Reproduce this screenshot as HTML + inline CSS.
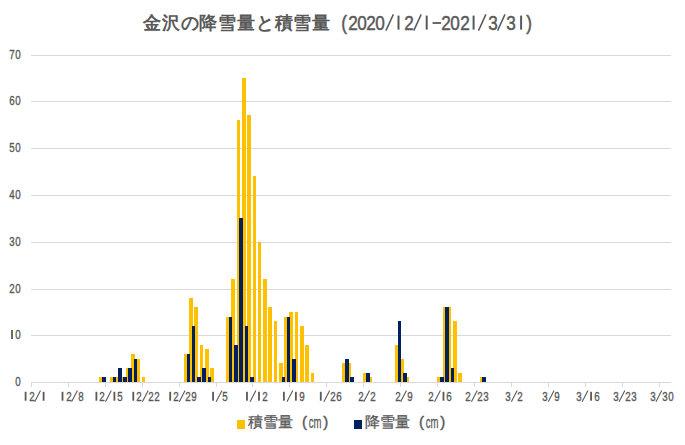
<!DOCTYPE html>
<html><head><meta charset="utf-8"><style>
html,body{margin:0;padding:0;background:#fff;width:685px;height:445px;overflow:hidden;position:relative;font-family:"Liberation Sans",sans-serif;color:#595959}
svg{position:absolute;left:0;top:0}
.g{position:absolute;width:20px;text-align:center;font-size:12.5px;line-height:14px;-webkit-text-stroke:0.35px #595959;transform:scaleX(0.78)}
.title{position:absolute;left:143px;top:11px;font-size:18px;line-height:24px;white-space:nowrap;font-weight:bold}
.title .k{letter-spacing:0.8px}
.td{position:absolute;top:10.7px;width:20px;text-align:center;font-size:19.5px;line-height:24px;-webkit-text-stroke:0.45px #595959;transform:scaleX(0.88)}
.leg{position:absolute;top:413px;font-size:15px;line-height:18px;white-space:nowrap;-webkit-text-stroke:0.3px #595959}
.sw{position:absolute;top:420px;width:8px;height:9px}
.lp{position:absolute;top:412.5px;width:20px;text-align:center;font-size:15px;line-height:18px;-webkit-text-stroke:0.4px #595959}
.lcm{position:absolute;top:412.8px;width:40px;text-align:center;font-size:17px;line-height:20px;-webkit-text-stroke:0.3px #595959;transform:scaleX(0.56)}
</style></head><body>
<svg width="685" height="445" viewBox="0 0 685 445" shape-rendering="crispEdges">
<rect x="31" y="55" width="640" height="1" fill="#D9D9D9"/>
<rect x="31" y="101" width="640" height="1" fill="#D9D9D9"/>
<rect x="31" y="148" width="640" height="1" fill="#D9D9D9"/>
<rect x="31" y="195" width="640" height="1" fill="#D9D9D9"/>
<rect x="31" y="242" width="640" height="1" fill="#D9D9D9"/>
<rect x="31" y="289" width="640" height="1" fill="#D9D9D9"/>
<rect x="31" y="335" width="640" height="1" fill="#D9D9D9"/>
<rect x="99" y="377" width="4" height="6" fill="#FFC000"/>
<rect x="110" y="377" width="4" height="6" fill="#FFC000"/>
<rect x="115" y="377" width="4" height="6" fill="#FFC000"/>
<rect x="121" y="377" width="3" height="6" fill="#FFC000"/>
<rect x="126" y="368" width="3" height="15" fill="#FFC000"/>
<rect x="131" y="354" width="4" height="29" fill="#FFC000"/>
<rect x="136" y="359" width="4" height="24" fill="#FFC000"/>
<rect x="142" y="377" width="3" height="6" fill="#FFC000"/>
<rect x="184" y="354" width="4" height="29" fill="#FFC000"/>
<rect x="189" y="298" width="4" height="85" fill="#FFC000"/>
<rect x="194" y="307" width="4" height="76" fill="#FFC000"/>
<rect x="200" y="345" width="3" height="38" fill="#FFC000"/>
<rect x="205" y="349" width="4" height="34" fill="#FFC000"/>
<rect x="210" y="368" width="4" height="15" fill="#FFC000"/>
<rect x="226" y="317" width="4" height="66" fill="#FFC000"/>
<rect x="231" y="279" width="4" height="104" fill="#FFC000"/>
<rect x="237" y="120" width="3" height="263" fill="#FFC000"/>
<rect x="242" y="78" width="4" height="305" fill="#FFC000"/>
<rect x="247" y="115" width="4" height="268" fill="#FFC000"/>
<rect x="253" y="176" width="3" height="207" fill="#FFC000"/>
<rect x="258" y="242" width="3" height="141" fill="#FFC000"/>
<rect x="263" y="279" width="4" height="104" fill="#FFC000"/>
<rect x="268" y="307" width="4" height="76" fill="#FFC000"/>
<rect x="274" y="321" width="3" height="62" fill="#FFC000"/>
<rect x="279" y="363" width="4" height="20" fill="#FFC000"/>
<rect x="284" y="317" width="4" height="66" fill="#FFC000"/>
<rect x="289" y="312" width="4" height="71" fill="#FFC000"/>
<rect x="295" y="312" width="3" height="71" fill="#FFC000"/>
<rect x="300" y="326" width="4" height="57" fill="#FFC000"/>
<rect x="305" y="345" width="4" height="38" fill="#FFC000"/>
<rect x="311" y="373" width="3" height="10" fill="#FFC000"/>
<rect x="342" y="363" width="4" height="20" fill="#FFC000"/>
<rect x="348" y="363" width="3" height="20" fill="#FFC000"/>
<rect x="363" y="373" width="4" height="10" fill="#FFC000"/>
<rect x="369" y="377" width="3" height="6" fill="#FFC000"/>
<rect x="395" y="345" width="4" height="38" fill="#FFC000"/>
<rect x="400" y="359" width="4" height="24" fill="#FFC000"/>
<rect x="406" y="377" width="3" height="6" fill="#FFC000"/>
<rect x="437" y="377" width="4" height="6" fill="#FFC000"/>
<rect x="443" y="307" width="3" height="76" fill="#FFC000"/>
<rect x="448" y="307" width="3" height="76" fill="#FFC000"/>
<rect x="453" y="321" width="4" height="62" fill="#FFC000"/>
<rect x="458" y="373" width="4" height="10" fill="#FFC000"/>
<rect x="480" y="377" width="3" height="6" fill="#FFC000"/>
<rect x="102" y="377" width="4" height="6" fill="#002060"/>
<rect x="113" y="377" width="3" height="6" fill="#002060"/>
<rect x="118" y="368" width="4" height="15" fill="#002060"/>
<rect x="123" y="377" width="4" height="6" fill="#002060"/>
<rect x="128" y="368" width="4" height="15" fill="#002060"/>
<rect x="134" y="359" width="3" height="24" fill="#002060"/>
<rect x="187" y="354" width="3" height="29" fill="#002060"/>
<rect x="192" y="326" width="3" height="57" fill="#002060"/>
<rect x="197" y="377" width="4" height="6" fill="#002060"/>
<rect x="202" y="368" width="4" height="15" fill="#002060"/>
<rect x="208" y="377" width="3" height="6" fill="#002060"/>
<rect x="229" y="317" width="3" height="66" fill="#002060"/>
<rect x="234" y="345" width="4" height="38" fill="#002060"/>
<rect x="239" y="218" width="4" height="165" fill="#002060"/>
<rect x="245" y="326" width="3" height="57" fill="#002060"/>
<rect x="250" y="377" width="4" height="6" fill="#002060"/>
<rect x="282" y="377" width="3" height="6" fill="#002060"/>
<rect x="287" y="317" width="3" height="66" fill="#002060"/>
<rect x="292" y="359" width="4" height="24" fill="#002060"/>
<rect x="345" y="359" width="4" height="24" fill="#002060"/>
<rect x="350" y="377" width="4" height="6" fill="#002060"/>
<rect x="366" y="373" width="4" height="10" fill="#002060"/>
<rect x="398" y="321" width="3" height="62" fill="#002060"/>
<rect x="403" y="373" width="4" height="10" fill="#002060"/>
<rect x="440" y="377" width="4" height="6" fill="#002060"/>
<rect x="445" y="307" width="4" height="76" fill="#002060"/>
<rect x="451" y="368" width="3" height="15" fill="#002060"/>
<rect x="482" y="377" width="4" height="6" fill="#002060"/>
<rect x="31" y="382" width="640" height="1" fill="#D9D9D9"/>
<rect x="31" y="382" width="1" height="5" fill="#D9D9D9"/>
<rect x="68" y="382" width="1" height="5" fill="#D9D9D9"/>
<rect x="105" y="382" width="1" height="5" fill="#D9D9D9"/>
<rect x="142" y="382" width="1" height="5" fill="#D9D9D9"/>
<rect x="179" y="382" width="1" height="5" fill="#D9D9D9"/>
<rect x="216" y="382" width="1" height="5" fill="#D9D9D9"/>
<rect x="252" y="382" width="1" height="5" fill="#D9D9D9"/>
<rect x="289" y="382" width="1" height="5" fill="#D9D9D9"/>
<rect x="326" y="382" width="1" height="5" fill="#D9D9D9"/>
<rect x="363" y="382" width="1" height="5" fill="#D9D9D9"/>
<rect x="400" y="382" width="1" height="5" fill="#D9D9D9"/>
<rect x="437" y="382" width="1" height="5" fill="#D9D9D9"/>
<rect x="474" y="382" width="1" height="5" fill="#D9D9D9"/>
<rect x="511" y="382" width="1" height="5" fill="#D9D9D9"/>
<rect x="548" y="382" width="1" height="5" fill="#D9D9D9"/>
<rect x="585" y="382" width="1" height="5" fill="#D9D9D9"/>
<rect x="622" y="382" width="1" height="5" fill="#D9D9D9"/>
<rect x="659" y="382" width="1" height="5" fill="#D9D9D9"/>
<g shape-rendering="geometricPrecision"><line x1="385.95" y1="30.6" x2="393.35" y2="14.4" stroke="#595959" stroke-width="1.5"/><rect x="397.5" y="15.6" width="2" height="14" fill="#595959"/><line x1="413.8" y1="30.6" x2="421.2" y2="14.4" stroke="#595959" stroke-width="1.5"/><rect x="425.7" y="15.6" width="2" height="14" fill="#595959"/><rect x="432.6" y="22.1" width="8.4" height="1.8" fill="#595959"/><rect x="472.6" y="15.6" width="2" height="14" fill="#595959"/><line x1="478.5" y1="30.6" x2="485.9" y2="14.4" stroke="#595959" stroke-width="1.5"/><line x1="497.6" y1="30.6" x2="505" y2="14.4" stroke="#595959" stroke-width="1.5"/><rect x="520.1" y="15.6" width="2" height="14" fill="#595959"/><rect x="11.1" y="330" width="1.8" height="9" fill="#595959"/><rect x="24.7" y="391.8" width="1.8" height="8.9" fill="#595959"/><line x1="34.7" y1="401.7" x2="40.5" y2="390.6" stroke="#595959" stroke-width="1.1"/><rect x="42.7" y="391.8" width="1.8" height="8.9" fill="#595959"/><rect x="61.6" y="391.8" width="1.8" height="8.9" fill="#595959"/><line x1="71.6" y1="401.7" x2="77.4" y2="390.6" stroke="#595959" stroke-width="1.1"/><rect x="95.49" y="391.8" width="1.8" height="8.9" fill="#595959"/><line x1="105.49" y1="401.7" x2="111.29" y2="390.6" stroke="#595959" stroke-width="1.1"/><rect x="113.49" y="391.8" width="1.8" height="8.9" fill="#595959"/><rect x="132.39" y="391.8" width="1.8" height="8.9" fill="#595959"/><line x1="142.39" y1="401.7" x2="148.19" y2="390.6" stroke="#595959" stroke-width="1.1"/><rect x="169.29" y="391.8" width="1.8" height="8.9" fill="#595959"/><line x1="179.29" y1="401.7" x2="185.09" y2="390.6" stroke="#595959" stroke-width="1.1"/><rect x="212.18" y="391.8" width="1.8" height="8.9" fill="#595959"/><line x1="216.18" y1="401.7" x2="221.98" y2="390.6" stroke="#595959" stroke-width="1.1"/><rect x="246.08" y="391.8" width="1.8" height="8.9" fill="#595959"/><line x1="250.08" y1="401.7" x2="255.88" y2="390.6" stroke="#595959" stroke-width="1.1"/><rect x="258.08" y="391.8" width="1.8" height="8.9" fill="#595959"/><rect x="282.98" y="391.8" width="1.8" height="8.9" fill="#595959"/><line x1="286.98" y1="401.7" x2="292.78" y2="390.6" stroke="#595959" stroke-width="1.1"/><rect x="294.98" y="391.8" width="1.8" height="8.9" fill="#595959"/><rect x="319.88" y="391.8" width="1.8" height="8.9" fill="#595959"/><line x1="323.88" y1="401.7" x2="329.68" y2="390.6" stroke="#595959" stroke-width="1.1"/><line x1="363.77" y1="401.7" x2="369.57" y2="390.6" stroke="#595959" stroke-width="1.1"/><line x1="400.67" y1="401.7" x2="406.47" y2="390.6" stroke="#595959" stroke-width="1.1"/><line x1="434.57" y1="401.7" x2="440.37" y2="390.6" stroke="#595959" stroke-width="1.1"/><rect x="442.57" y="391.8" width="1.8" height="8.9" fill="#595959"/><line x1="471.46" y1="401.7" x2="477.26" y2="390.6" stroke="#595959" stroke-width="1.1"/><line x1="511.36" y1="401.7" x2="517.16" y2="390.6" stroke="#595959" stroke-width="1.1"/><line x1="548.26" y1="401.7" x2="554.06" y2="390.6" stroke="#595959" stroke-width="1.1"/><line x1="582.16" y1="401.7" x2="587.96" y2="390.6" stroke="#595959" stroke-width="1.1"/><rect x="590.16" y="391.8" width="1.8" height="8.9" fill="#595959"/><line x1="619.05" y1="401.7" x2="624.85" y2="390.6" stroke="#595959" stroke-width="1.1"/><line x1="655.95" y1="401.7" x2="661.75" y2="390.6" stroke="#595959" stroke-width="1.1"/></g>
</svg>
<div class="title"><span class="k">金沢の降雪量と積雪量</span></div><div class="td" style="left:334px">(</div><div class="td" style="left:343.15px">2</div><div class="td" style="left:351.75px">0</div><div class="td" style="left:360.85px">2</div><div class="td" style="left:369.95px">0</div><div class="td" style="left:398.8px">2</div><div class="td" style="left:436px">2</div><div class="td" style="left:445.15px">0</div><div class="td" style="left:454.7px">2</div><div class="td" style="left:482.5px">3</div><div class="td" style="left:500.7px">3</div><div class="td" style="left:519.05px">)</div>
<div class="g" style="left:2px;top:48.2px">7</div><div class="g" style="left:8px;top:48.2px">0</div><div class="g" style="left:2px;top:94.2px">6</div><div class="g" style="left:8px;top:94.2px">0</div><div class="g" style="left:2px;top:141.2px">5</div><div class="g" style="left:8px;top:141.2px">0</div><div class="g" style="left:2px;top:188.2px">4</div><div class="g" style="left:8px;top:188.2px">0</div><div class="g" style="left:2px;top:235.2px">3</div><div class="g" style="left:8px;top:235.2px">0</div><div class="g" style="left:2px;top:282.2px">2</div><div class="g" style="left:8px;top:282.2px">0</div><div class="g" style="left:8px;top:328.2px">0</div><div class="g" style="left:8px;top:375.2px">0</div><div class="g" style="left:21.6px;top:390px">2</div><div class="g" style="left:58.5px;top:390px">2</div><div class="g" style="left:70.5px;top:390px">8</div><div class="g" style="left:92.39px;top:390px">2</div><div class="g" style="left:110.39px;top:390px">5</div><div class="g" style="left:129.29px;top:390px">2</div><div class="g" style="left:141.29px;top:390px">2</div><div class="g" style="left:147.29px;top:390px">2</div><div class="g" style="left:166.19px;top:390px">2</div><div class="g" style="left:178.19px;top:390px">2</div><div class="g" style="left:184.19px;top:390px">9</div><div class="g" style="left:215.08px;top:390px">5</div><div class="g" style="left:254.98px;top:390px">2</div><div class="g" style="left:291.88px;top:390px">9</div><div class="g" style="left:322.78px;top:390px">2</div><div class="g" style="left:328.78px;top:390px">6</div><div class="g" style="left:350.67px;top:390px">2</div><div class="g" style="left:362.67px;top:390px">2</div><div class="g" style="left:387.57px;top:390px">2</div><div class="g" style="left:399.57px;top:390px">9</div><div class="g" style="left:421.47px;top:390px">2</div><div class="g" style="left:439.47px;top:390px">6</div><div class="g" style="left:458.36px;top:390px">2</div><div class="g" style="left:470.36px;top:390px">2</div><div class="g" style="left:476.36px;top:390px">3</div><div class="g" style="left:498.26px;top:390px">3</div><div class="g" style="left:510.26px;top:390px">2</div><div class="g" style="left:535.16px;top:390px">3</div><div class="g" style="left:547.16px;top:390px">9</div><div class="g" style="left:569.06px;top:390px">3</div><div class="g" style="left:587.06px;top:390px">6</div><div class="g" style="left:605.95px;top:390px">3</div><div class="g" style="left:617.95px;top:390px">2</div><div class="g" style="left:623.95px;top:390px">3</div><div class="g" style="left:642.85px;top:390px">3</div><div class="g" style="left:654.85px;top:390px">3</div><div class="g" style="left:660.85px;top:390px">0</div>
<div class="sw" style="left:237px;background:#FFC000"></div>
<div class="leg" style="left:248px">積雪量</div><div class="lp" style="left:294.6px">(</div><div class="lcm" style="left:294.5px">cm</div><div class="lp" style="left:315.7px">)</div>
<div class="sw" style="left:354px;background:#002060"></div>
<div class="leg" style="left:365px">降雪量</div><div class="lp" style="left:411.6px">(</div><div class="lcm" style="left:411.5px">cm</div><div class="lp" style="left:432.7px">)</div>
</body></html>
